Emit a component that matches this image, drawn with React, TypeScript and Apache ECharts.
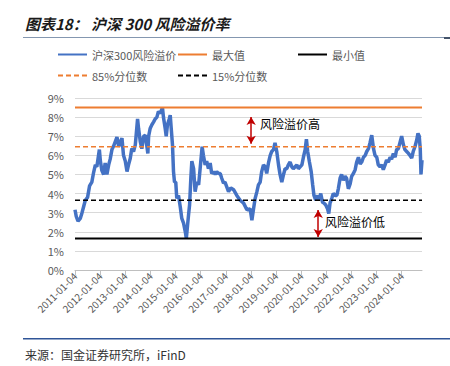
import React, { useEffect, useRef } from "react";
import * as echarts from "echarts";

const riskYears = [
  2011.0, 2011.05, 2011.12, 2011.21, 2011.28, 2011.34, 2011.41, 2011.5, 2011.58, 2011.67, 2011.74, 2011.81, 2011.87, 2011.97,
  2012.01, 2012.07, 2012.14, 2012.2, 2012.27, 2012.34, 2012.4, 2012.47, 2012.54, 2012.67, 2012.74, 2012.8, 2012.87, 2012.93,
  2013.0, 2013.07, 2013.13, 2013.2, 2013.26, 2013.33, 2013.4, 2013.49, 2013.53, 2013.6, 2013.66, 2013.73, 2013.8, 2013.9, 2013.93, 2013.99,
  2014.06, 2014.13, 2014.19, 2014.26, 2014.32, 2014.39, 2014.48, 2014.52, 2014.59, 2014.63, 2014.68, 2014.75, 2014.79, 2014.83, 2014.88, 2014.92, 2014.96,
  2015.01, 2015.05, 2015.12, 2015.19, 2015.25, 2015.32, 2015.39, 2015.43, 2015.48, 2015.52, 2015.56, 2015.61, 2015.65, 2015.72, 2015.78, 2015.85, 2015.92, 2015.98,
  2016.06, 2016.11, 2016.18, 2016.24, 2016.31, 2016.38, 2016.44, 2016.51, 2016.58, 2016.64, 2016.71, 2016.78, 2016.84, 2016.91, 2016.97,
  2017.04, 2017.11, 2017.2, 2017.31, 2017.44, 2017.57, 2017.71, 2017.84, 2017.97,
  2018.04, 2018.1, 2018.17, 2018.24, 2018.3, 2018.37, 2018.43, 2018.5, 2018.57, 2018.63, 2018.7, 2018.77, 2018.83, 2018.9, 2018.96,
  2019.03, 2019.1, 2019.16, 2019.23, 2019.3, 2019.36, 2019.43, 2019.49, 2019.56, 2019.63, 2019.69, 2019.76, 2019.83, 2019.89, 2019.96,
  2020.03, 2020.09, 2020.16, 2020.21, 2020.26, 2020.33, 2020.4, 2020.46, 2020.51, 2020.58, 2020.65, 2020.71, 2020.78, 2020.85, 2020.91, 2020.98,
  2021.05, 2021.1, 2021.15, 2021.22, 2021.28, 2021.35, 2021.42, 2021.48, 2021.55, 2021.61, 2021.68, 2021.75, 2021.81, 2021.88, 2021.95,
  2022.01, 2022.08, 2022.15, 2022.21, 2022.28, 2022.35, 2022.41, 2022.48, 2022.55, 2022.61, 2022.68, 2022.74, 2022.81, 2022.88, 2022.94,
  2023.01, 2023.07, 2023.14, 2023.21, 2023.27, 2023.34, 2023.4, 2023.47, 2023.54, 2023.6, 2023.67, 2023.74, 2023.8, 2023.87, 2023.93,
  2024.0, 2024.07, 2024.13, 2024.2, 2024.27, 2024.33, 2024.4, 2024.46, 2024.53, 2024.6, 2024.65, 2024.7, 2024.74, 2024.77, 2024.81,
];

// 沪深300风险溢价 (%)
const riskValues = [
  3.15, 2.8, 2.55, 2.7, 3.0, 3.3, 3.65, 3.8, 4.4, 4.6, 5.1, 5.5, 5.4, 6.3,
  5.7, 5.2, 5.0, 5.6, 5.0, 5.5, 5.8, 6.3, 6.5, 6.95, 6.45, 6.7, 6.9, 6.0,
  5.7, 5.15, 5.5, 5.85, 6.35, 6.2, 6.55, 7.9, 7.4, 6.7, 6.35, 7.0, 7.05, 6.1, 7.0, 7.4,
  7.6, 7.75, 7.9, 8.0, 8.3, 8.2, 8.5, 8.0, 7.4, 7.0, 7.6, 7.9, 8.1, 7.4, 6.55, 5.15, 4.6,
  4.6, 3.75, 3.9, 3.3, 2.7, 2.45, 2.0, 1.65, 2.35, 2.9, 3.4, 4.8, 5.7, 5.3, 4.1, 4.6, 4.45, 5.3,
  6.45, 6.0, 5.5, 5.7, 5.3, 5.6, 5.05, 5.15, 5.0, 5.15, 5.05, 5.05, 4.8, 4.55, 4.6,
  4.35, 4.1, 4.3, 4.2, 3.9, 3.65, 3.5, 3.15, 3.2,
  2.6, 3.15, 3.75, 4.1, 4.45, 4.6, 5.15, 5.5, 5.4, 5.05, 5.6, 6.0, 6.2, 6.3, 6.65,
  6.2, 5.5, 5.0, 4.6, 5.0, 5.3, 5.3, 5.5, 5.65, 5.4, 5.3, 5.4, 5.5, 5.3, 5.4,
  5.5, 5.9, 6.3, 6.85, 6.2, 5.65, 5.15, 4.45, 3.9, 3.65, 3.9, 3.65, 4.0, 3.55, 3.5, 3.4,
  3.2, 2.95, 3.5, 3.75, 4.0, 3.9, 3.9, 4.25, 4.8, 5.0, 4.7, 4.9, 4.8, 4.25, 4.5,
  4.9, 5.05, 5.25, 5.65, 5.9, 5.55, 5.65, 5.9, 6.0, 6.2, 6.35, 6.65, 7.05, 6.35, 6.0,
  5.9, 5.5, 5.4, 5.5, 5.25, 5.5, 5.75, 5.65, 5.9, 5.8, 6.1, 5.9, 6.3, 6.35, 6.65,
  7.0, 6.55, 6.3, 6.2, 6.1, 6.0, 5.85, 6.2, 6.45, 6.8, 7.15, 7.0, 6.35, 5.0, 5.75,
];

const maxValue = 8.5;
const minValue = 1.65;
const p85Value = 6.45;
const p15Value = 3.65;

const xStart = 2011;
const xEnd = 2024.81;
const tickYears = [2011, 2012, 2013, 2014, 2015, 2016, 2017, 2018, 2019, 2020, 2021, 2022, 2023, 2024];
const yTicks = [0, 1, 2, 3, 4, 5, 6, 7, 8, 9];

// annotation arrows: [year, top%, bottom%]
const highArrow = [2018.01, 8.0, 6.6];
const lowArrow = [2020.68, 3.14, 1.73];

const seriesNames = ["沪深300风险溢价", "最大值", "最小值", "85%分位数", "15%分位数"];

const FONT = "'Noto Sans CJK SC', 'Noto Sans', sans-serif";

export default function App() {
  const ref = useRef<HTMLDivElement>(null);

  useEffect(() => {
    document.body.style.margin = "0";
    const chart = echarts.init(ref.current!, null, { renderer: "svg" });
    const flat = (v: number) => [
      [xStart, v],
      [xEnd, v],
    ];
    const legendBase = {
      itemWidth: 29,
      itemHeight: 10,
      itemGap: 4,
      padding: 0,
      itemStyle: { opacity: 0 },
      textStyle: { fontSize: 11, color: "#595959", fontFamily: FONT },
    };
    const row1 = 49;
    const row2 = 70;
    const option: any = {
      animation: false,
      backgroundColor: "#ffffff",
      grid: { left: 75, right: 28, top: 98, bottom: 96, containLabel: false },
      legend: [
        { ...legendBase, data: [seriesNames[0]], left: 57, top: row1 },
        { ...legendBase, data: [seriesNames[1]], left: 177, top: row1 },
        { ...legendBase, data: [seriesNames[2]], left: 297, top: row1 },
        { ...legendBase, data: [seriesNames[3]], left: 57, top: row2 },
        { ...legendBase, data: [seriesNames[4]], left: 177, top: row2 },
      ],
      xAxis: {
        type: "value",
        min: xStart,
        max: xEnd,
        interval: 1,
        axisLine: { show: true, lineStyle: { color: "#BFBFBF", width: 1 } },
        axisTick: { show: true, length: 5, customValues: tickYears, lineStyle: { color: "#BFBFBF" } },
        splitLine: { show: false },
        axisLabel: {
          customValues: tickYears,
          rotate: 45,
          margin: 4,
          fontSize: 10,
          color: "#595959",
          fontFamily: FONT,
          formatter: (v: number) => `${v}-01-04`,
        },
      },
      yAxis: {
        type: "value",
        min: yTicks[0],
        max: yTicks[yTicks.length - 1],
        interval: 1,
        axisLine: { show: false },
        axisTick: { show: false },
        splitLine: { lineStyle: { color: "#D9D9D9", width: 1 } },
        axisLabel: {
          margin: 11,
          fontSize: 11,
          color: "#595959",
          fontFamily: FONT,
          formatter: (v: number) => `${v}%`,
        },
      },
      series: [
        {
          name: seriesNames[0],
          type: "line",
          data: riskYears.map((y, i) => [y, riskValues[i]]),
          symbol: "none",
          lineStyle: { color: "#4472C4", width: 3.5 },
          itemStyle: { color: "#4472C4" },
          markLine: {
            silent: true,
            symbol: ["arrow", "arrow"],
            symbolSize: [7, 8],
            label: { show: false },
            lineStyle: { color: "#C00000", width: 1.5, type: "solid" },
            data: [
              [{ coord: [highArrow[0], highArrow[1]] }, { coord: [highArrow[0], highArrow[2]] }],
              [{ coord: [lowArrow[0], lowArrow[1]] }, { coord: [lowArrow[0], lowArrow[2]] }],
            ],
          },
        },
        {
          name: seriesNames[1],
          type: "line",
          data: flat(maxValue),
          symbol: "none",
          lineStyle: { color: "#ED7D31", width: 2 },
          itemStyle: { color: "#ED7D31" },
        },
        {
          name: seriesNames[2],
          type: "line",
          data: flat(minValue),
          symbol: "none",
          lineStyle: { color: "#000000", width: 2 },
          itemStyle: { color: "#000000" },
        },
        {
          name: seriesNames[3],
          type: "line",
          data: flat(p85Value),
          symbol: "none",
          lineStyle: { color: "#ED7D31", width: 1.5, type: [5, 3] },
          itemStyle: { color: "#ED7D31" },
        },
        {
          name: seriesNames[4],
          type: "line",
          data: flat(p15Value),
          symbol: "none",
          lineStyle: { color: "#000000", width: 1.5, type: [5, 3] },
          itemStyle: { color: "#000000" },
        },
      ],
      graphic: [
        {
          type: "text",
          left: 25,
          top: 16,
          style: {
            text: "图表18： 沪深 300 风险溢价率",
            font: `italic bold 15px ${FONT}`,
            fill: "#1a1a1a",
          },
        },
        {
          type: "rect",
          shape: { x: 23, y: 37, width: 427, height: 1 },
          style: { fill: "#8497B0" },
        },
        {
          type: "rect",
          shape: { x: 444, y: 37, width: 6, height: 2 },
          style: { fill: "#44546A" },
        },
        {
          type: "text",
          left: 260,
          top: 117,
          style: { text: "风险溢价高", font: `12px ${FONT}`, fill: "#000000" },
        },
        {
          type: "text",
          left: 325,
          top: 215,
          style: { text: "风险溢价低", font: `12px ${FONT}`, fill: "#000000" },
        },
        {
          type: "rect",
          shape: { x: 23, y: 338, width: 427, height: 1.5 },
          style: { fill: "#2F5597" },
        },
        {
          type: "text",
          left: 25,
          top: 348,
          style: { text: "来源：国金证券研究所，iFinD", font: `12px ${FONT}`, fill: "#333333" },
        },
      ],
    };
    chart.setOption(option);
    return () => chart.dispose();
  }, []);

  return <div ref={ref} style={{ width: 450, height: 366 }} />;
}
